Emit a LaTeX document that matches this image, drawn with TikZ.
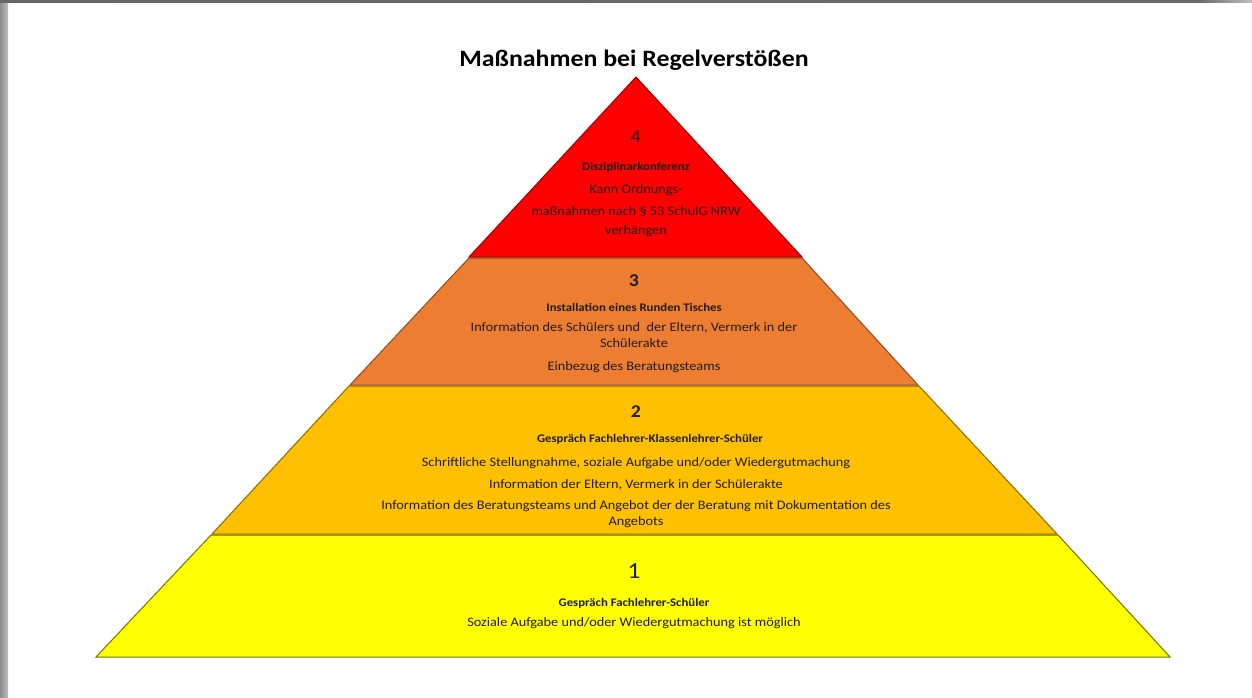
\documentclass[tikz,border=0pt]{standalone}
\usepackage{fontspec}
\setmainfont[FakeStretch=1.1]{Carlito}
\usetikzlibrary{shadings}
\definecolor{lvred}{HTML}{FF0000}
\definecolor{lvorange}{HTML}{ED7D31}
\definecolor{lvamber}{HTML}{FFC000}
\definecolor{lvyellow}{HTML}{FFFF00}
\definecolor{txt}{HTML}{1E1E1E}
\tikzset{
  layer/.style={line width=1pt, line join=miter},
  txtline/.style={font=\fontsize{13}{16}\selectfont, text=txt, align=center, inner sep=0pt},
  headline/.style={font=\bfseries\fontsize{11.6}{13}\selectfont, text=txt, inner sep=0pt},
  numline/.style={font=\fontsize{18}{20}\selectfont, text=txt, inner sep=0pt},
}
\begin{document}
\begin{tikzpicture}[x=1pt,y=-1pt]
\useasboundingbox (0,0) rectangle (1252,698);
\fill[white] (0,0) rectangle (1252,698);
% frame shadow
\shade[left color=black!45, right color=black!25] (0,0) rectangle (8,698);
\shade[left color=black!60, right color=black!58] (0,0) rectangle (1200,3);
\shade[left color=black!58, right color=black!25] (1200,0) rectangle (1252,3);
% title
\node[font=\bfseries\fontsize{23.5}{26}\selectfont, text=black, inner sep=0pt] (title) at (634,60) {Maßnahmen bei Regelverstößen};
% layers
\draw[layer, fill=lvyellow, draw=lvyellow!45!black] (211,535) -- (1058,535) -- (1170,657) -- (96,657) -- cycle;
\draw[layer, fill=lvamber, draw=lvamber!55!black] (349,386) -- (919,386) -- (1057,534) -- (212,534) -- cycle;
\draw[layer, fill=lvorange, draw=lvorange!60!black] (469,258) -- (802,258) -- (918,385) -- (350,385) -- cycle;
\draw[layer, fill=lvred, draw=lvred!60!black] (636,77) -- (802,257) -- (469,257) -- cycle;
% layer 4
\node[numline] (n4) at (636,137) {4};
\node[headline] (h4) at (636,167) {Disziplinarkonferenz};
\node[txtline] (t4a) at (636,190) {Kann Ordnungs-};
\node[txtline] (t4b) at (636,211) {maßnahmen nach § 53 SchulG NRW};
\node[txtline] (t4c) at (636,231) {verhängen};
% layer 3
\node[numline, font=\bfseries\fontsize{18}{20}\selectfont] (n3) at (634,281) {3};
\node[headline] (h3) at (634,307) {Installation eines Runden Tisches};
\node[txtline] (t3a) at (634,335) {Information des Schülers und \ der Eltern, Vermerk in der\\Schülerakte};
\node[txtline] (t3b) at (634,367) {Einbezug des Beratungsteams};
% layer 2
\node[numline, font=\bfseries\fontsize{18}{20}\selectfont] (n2) at (636,412) {2};
\node[headline] (h2) at (650,439) {Gespräch Fachlehrer-Klassenlehrer-Schüler};
\node[txtline] (t2a) at (636,463) {Schriftliche Stellungnahme, soziale Aufgabe und/oder Wiedergutmachung};
\node[txtline] (t2b) at (636,485) {Information der Eltern, Vermerk in der Schülerakte};
\node[txtline] (t2c) at (636,514) {Information des Beratungsteams und Angebot der der Beratung mit Dokumentation des\\Angebots};
% layer 1
\node[numline, font=\fontsize{23}{25}\selectfont] (n1) at (634,571) {1};
\node[headline] (h1) at (634,603) {Gespräch Fachlehrer-Schüler};
\node[txtline] (t1a) at (634,623) {Soziale Aufgabe und/oder Wiedergutmachung ist möglich};
\end{tikzpicture}
\end{document}
